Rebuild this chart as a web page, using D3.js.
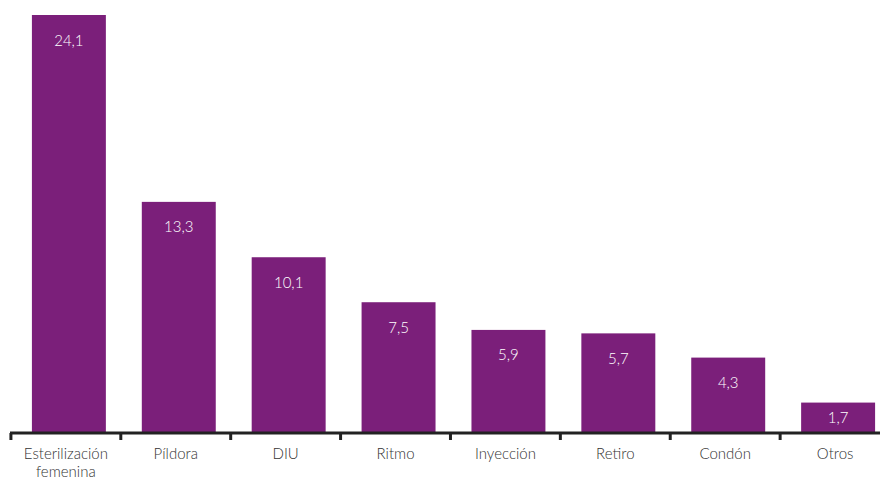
<!DOCTYPE html>
<html><head><meta charset="utf-8">
<script src="https://cdn.jsdelivr.net/npm/d3@7"></script>
<style>body{margin:0;background:#fff}svg{display:block}</style>
</head><body>
<script>
const categories = ["Esterilización femenina","Píldora","DIU","Ritmo","Inyección","Retiro","Condón","Otros"];
const values = [24.1,13.3,10.1,7.5,5.9,5.7,4.3,1.7];
const labels = ["24,1","13,3","10,1","7,5","5,9","5,7","4,3","1,7"];

const W=880,H=479;
const svg=d3.select("body").append("svg").attr("width",W).attr("height",H);
const x=d3.scaleBand().domain(categories).range([14,893]).paddingInner(0.327).paddingOuter(0.163);
const y=d3.scaleLinear().domain([0,24.1]).range([432,15]);
const color="#7B1F7A";
const font="Lato, 'Open Sans', sans-serif";

svg.selectAll("rect.bar").data(values).join("rect").attr("class","bar")
  .attr("x",(d,i)=>x(categories[i])).attr("width",x.bandwidth())
  .attr("y",d=>y(d)).attr("height",d=>y(0)-y(d)).attr("fill",color);

svg.selectAll("text.val").data(values).join("text").attr("class","val")
  .attr("x",(d,i)=>x(categories[i])+x.bandwidth()/2)
  .attr("y",d=>Math.min(y(d)+25,(y(d)+y(0))/2)+5.5)
  .attr("text-anchor","middle").attr("fill","#fff").attr("font-family",font)
  .attr("font-weight",300).attr("font-size",15).text((d,i)=>labels[i]);

// axis
svg.append("line").attr("x1",10).attr("x2",W).attr("y1",433).attr("y2",433)
  .attr("stroke","#222").attr("stroke-width",3);
svg.selectAll("line.tick").data(categories).join("line").attr("class","tick")
  .attr("x1",d=>x(d)-21).attr("x2",d=>x(d)-21)
  .attr("y1",433).attr("y2",440).attr("stroke","#222").attr("stroke-width",3);

const lab=svg.selectAll("text.cat").data(categories).join("text").attr("class","cat")
  .attr("x",d=>x(d)+x.bandwidth()/2-3).attr("y",459)
  .attr("text-anchor","middle").attr("fill","#333").attr("font-family",font)
  .attr("font-weight",300).attr("font-size",15);
lab.each(function(d){
  const t=d3.select(this);
  const parts=d.split(" ");
  if(parts.length>1 && d.length>14){
    parts.forEach((p,k)=>t.append("tspan").attr("x",t.attr("x")).attr("dy",k?18:0).text(p));
  } else t.text(d);
});
</script>
</body></html>
